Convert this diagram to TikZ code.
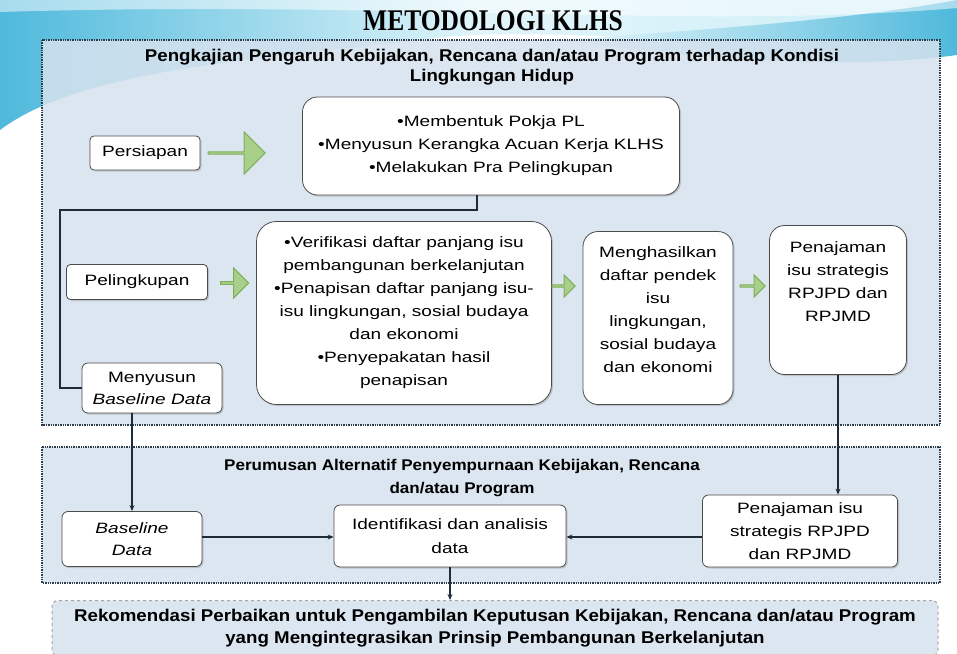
\documentclass[tikz,border=0pt]{standalone}
\usepackage{fontspec}
\setmainfont{Liberation Sans}[FakeStretch=1.27]
\newfontfamily\titlefont{Liberation Serif}[FakeStretch=0.85]
\newfontfamily\headfont{Liberation Sans}[FakeStretch=1.1]
\usetikzlibrary{shapes.arrows,shadows,arrows.meta}
\definecolor{panel}{HTML}{D6E2EE}
\definecolor{border}{HTML}{2E3B48}
\definecolor{conn}{HTML}{1E2B38}
\definecolor{grfill}{HTML}{A8D08A}
\definecolor{grdraw}{HTML}{7FAE5A}
\definecolor{cyanA}{HTML}{4FB9DC}
\definecolor{cyanB}{HTML}{CDEEF7}
\definecolor{finfill}{HTML}{DCE6F1}
\tikzset{
  whitebox/.style={draw=gray!60!black, line width=0.8pt, fill=white, align=center, inner sep=2pt,
     drop shadow={shadow xshift=1.5pt, shadow yshift=-1.5pt, opacity=0.35},
     font=\fontsize{15}{23}\selectfont},
  greenarrow/.style={single arrow, draw=grdraw, fill=grfill, line width=1pt, inner sep=0pt, single arrow head indent=0pt},
  panelbox/.style={draw=border, densely dotted, line width=1.4pt, fill=panel, fill opacity=0.85},
  conline/.style={draw=conn, line width=1.3pt},
  conarrow/.style={draw=conn, line width=1.3pt, -{Stealth[length=6pt,width=5pt]}},
  headtext/.style={font=\headfont\bfseries\fontsize{17}{20}\selectfont, align=center}
}
\begin{document}
\begin{tikzpicture}[x=1pt,y=-1pt]
\useasboundingbox (0,0) rectangle (957,653);
\fill[white] (0,0) rectangle (957,653);
% top swoosh background
\shade[left color=cyanA, right color=cyanB, middle color=cyanB!60!white]
  (0,0) -- (957,0) -- (957,30) .. controls (760,60) and (560,20) .. (420,40)
  .. controls (250,60) and (80,70) .. (0,130) -- cycle;
\shade[left color=cyanB!40!white, right color=cyanA]
  (560,40) .. controls (700,30) and (850,20) .. (957,0) -- (957,55)
  .. controls (850,70) and (700,60) .. (560,40) -- cycle;
\fill[white, opacity=0.5] (0,0) -- (957,0) -- (957,8) .. controls (700,30) and (400,0) .. (0,12) -- cycle;

% title
\node (title) at (493,21) {\titlefont\bfseries\fontsize{30}{32}\selectfont METODOLOGI KLHS};

% panel 1
\draw[panelbox] (42,40) rectangle (940,425);
\node[headtext] (head1) at (492,67) {Pengkajian Pengaruh Kebijakan, Rencana dan/atau Program terhadap Kondisi\\Lingkungan Hidup};

% panel 2
\draw[panelbox] (42,447) rectangle (940,583);
\node[headtext, font=\headfont\bfseries\fontsize{15.5}{23}\selectfont] (head2) at (462,478) {Perumusan Alternatif Penyempurnaan Kebijakan, Rencana\\dan/atau Program};

% final box
\node[draw=gray!70, dashed, line width=1pt, fill=finfill, rounded corners=6pt, minimum width=886pt, minimum height=55pt,
  font=\headfont\bfseries\fontsize{17}{22}\selectfont, align=center] (final) at (495,628)
  {Rekomendasi Perbaikan untuk Pengambilan Keputusan Kebijakan, Rencana dan/atau Program\\yang Mengintegrasikan Prinsip Pembangunan Berkelanjutan};

% upper boxes
\node[whitebox, rounded corners=4pt, minimum width=110pt, minimum height=34pt] (persiapan) at (145,153) {Persiapan};
\node[greenarrow, minimum height=57pt, minimum width=42pt, single arrow head extend=8pt] (arr1) at (236,153) {};
\node[whitebox, rounded corners=15pt, minimum width=377pt, minimum height=98pt] (box1) at (491,146)
  {•Membentuk Pokja PL\\•Menyusun Kerangka Acuan Kerja KLHS\\•Melakukan Pra Pelingkupan};

\node[whitebox, rounded corners=4pt, minimum width=141pt, minimum height=35pt] (pelingkupan) at (137,282) {Pelingkupan};
\node[greenarrow, minimum height=28pt, minimum width=30pt, single arrow head extend=5pt] (arr2) at (234,283) {};
\node[whitebox, rounded corners=20pt, minimum width=295pt, minimum height=183pt] (box2) at (404,313)
  {•Verifikasi daftar panjang isu\\pembangunan berkelanjutan\\•Penapisan daftar panjang isu-\\isu lingkungan, sosial budaya\\dan ekonomi\\•Penyepakatan hasil\\penapisan};
\node[greenarrow, minimum height=23pt, minimum width=22pt, single arrow head extend=4pt] (arr3) at (563,286) {};
\node[whitebox, rounded corners=15pt, minimum width=150pt, minimum height=173pt, text depth=16pt] (box3) at (658,318)
  {Menghasilkan\\daftar pendek\\isu\\lingkungan,\\sosial budaya\\dan ekonomi};
\node[greenarrow, minimum height=25pt, minimum width=22pt, single arrow head extend=4pt] (arr4) at (752,286) {};
\node[whitebox, rounded corners=15pt, minimum width=137pt, minimum height=149pt] (box4) at (838,300) {};
\node[align=center, font=\fontsize{15}{23}\selectfont, anchor=north] (box4text) at (838,238)
  {Penajaman\\isu strategis\\RPJPD dan\\RPJMD};

\node[whitebox, rounded corners=6pt, minimum width=140pt, minimum height=50pt, font=\fontsize{15}{22}\selectfont] (menyusun) at (152,388)
  {Menyusun\\\textit{Baseline Data}};

% lower boxes
\node[whitebox, rounded corners=6pt, minimum width=140pt, minimum height=55pt, font=\fontsize{15}{22}\selectfont] (baseline) at (132,539)
  {\textit{Baseline}\\\textit{Data}};
\node[whitebox, rounded corners=6pt, minimum width=232pt, minimum height=62pt, font=\fontsize{15}{24}\selectfont] (ident) at (450,536)
  {Identifikasi dan analisis\\data};
\node[whitebox, rounded corners=6pt, minimum width=195pt, minimum height=72pt, font=\fontsize{15}{23}\selectfont] (pen2) at (800,531)
  {Penajaman isu\\strategis RPJPD\\dan RPJMD};

% connectors
\coordinate (j1) at (60,210);
\coordinate (ay) at (0,537);
\draw[conn, line width=2.8pt] ([xshift=-14pt]box1.south) |- (j1) |- (menyusun.west);
\draw[conarrow] (baseline.north |- menyusun.south) -- (baseline.north);
\draw[conarrow] (box4.south) -- (box4.south |- pen2.north);
\draw[conarrow] (baseline.east |- ay) -- (ident.west |- ay);
\draw[conarrow] (pen2.west |- ay) -- (ident.east |- ay);
\draw[conarrow] (ident.south) -- (ident.south |- final.north);
\end{tikzpicture}
\end{document}
